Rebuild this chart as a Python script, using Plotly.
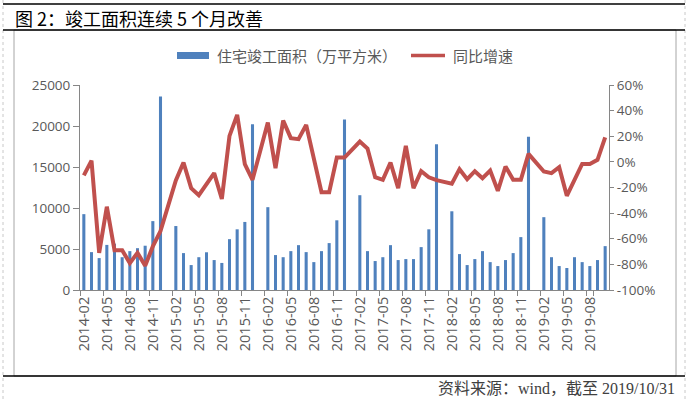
import plotly.graph_objects as go

# ---------------- data ----------------
all_months = [f"{y}-{m:02d}" for y in range(2014, 2020) for m in range(1, 13)]
months = all_months[1:70]          # 2014-02 .. 2019-10
tick_labels = months[::3]

# 住宅竣工面积（万平方米）
completion = [
    9250, 4620, 3890, 5500, 5650, 4000, 4740, 5100, 5400, 8400, 23600,
    None, 7800, 4500, 3040, 4000, 4600, 3650, 3300, 6200, 7400, 8300, 20200,
    None, 10100, 4260, 4000, 4740, 5470, 4620, 3400, 4740, 5720, 8500, 20800,
    None, 11560, 4740, 3530, 4000, 5470, 3650, 3770, 3770, 5230, 7400, 17760,
    None, 9600, 4380, 3040, 3770, 4740, 3400, 2920, 3650, 4500, 6450, 18700,
    None, 8880, 4000, 2920, 2680, 4000, 3400, 2920, 3650, 5350,
]

# 同比增速 (%)
yoy = [
    -10.5, 1.0, -71, -35, -69, -69, -79, -71, -81, -66, -54,
    None, -14.5, -0.5, -20.5, -26, -17.4, -8.8, -29, 20.3, 36.7, -1.8, -14,
    None, 30.7, -4.9, 32.2, 18.5, 17.7, 28.9, 2.0, -23.7, -23.7, 3.4, 3.4,
    None, 15.9, 10.4, -12, -14, -0.5, -20.5, 12.5, -20.5, -7.3, -12, -14.3,
    None, -17, -5.7, -13.5, -7.3, -12.7, -6.8, -22.6, -3.6, -14, -14, 6.2,
    None, -7.5, -8.8, -4.2, -26.5, -14, -1.6, -1.6, 1.6, 19.2,
]

left_ticks = [0, 5000, 10000, 15000, 20000, 25000]
right_ticks = [-100, -80, -60, -40, -20, 0, 20, 40, 60]
right_tick_text = [f"{v}%" for v in right_ticks]

# ---------------- layout helpers ----------------
L, R, T, B = 80, 609, 85, 290
W, H = 688, 399


def px(x):
    return (x - L) / (R - L)


def py(y):
    return (B - y) / (B - T)


BLUE = "#4F81BD"
RED = "#C0504D"
AX = "#868686"
TXT = "#595959"
TICKFONT = dict(family="Open Sans, Liberation Sans, sans-serif", size=13.5, color=TXT)
XTICKFONT = dict(family="Open Sans, Liberation Sans, sans-serif", size=14.5, color=TXT)
CJK = "Noto Sans CJK SC, Noto Sans, sans-serif"

fig = go.Figure()
fig.add_trace(go.Bar(
    x=months, y=completion, marker_color=BLUE, marker_line_width=0,
    name="住宅竣工面积（万平方米）", showlegend=False, yaxis="y",
))
fig.add_trace(go.Scatter(
    x=months, y=yoy, mode="lines", line=dict(color=RED, width=4),
    connectgaps=True, name="同比增速", showlegend=False, yaxis="y2",
))

shapes = [
    # page borders (dashed)
    dict(type="line", x0=px(3), x1=px(3), y0=py(0), y1=py(399),
         line=dict(color="#C8C8C8", width=1, dash="dot")),
    dict(type="line", x0=px(685), x1=px(685), y0=py(0), y1=py(399),
         line=dict(color="#C8C8C8", width=1, dash="dot")),
    # chart frame
    dict(type="rect", x0=px(14), x1=px(676), y0=py(376), y1=py(30),
         line=dict(color="#A6A6A6", width=1)),
    # black rules
    dict(type="line", x0=px(3), x1=px(685), y0=py(4), y1=py(4),
         line=dict(color="black", width=1.5)),
    dict(type="line", x0=px(3), x1=px(685), y0=py(30), y1=py(30),
         line=dict(color="black", width=1.5)),
    dict(type="line", x0=px(3), x1=px(685), y0=py(376), y1=py(376),
         line=dict(color="black", width=1.5)),
    # legend symbols
    dict(type="rect", x0=px(177), x1=px(209), y0=py(59), y1=py(52),
         fillcolor=BLUE, line=dict(width=0)),
    dict(type="line", x0=px(411), x1=px(445), y0=py(55.5), y1=py(55.5),
         line=dict(color=RED, width=3.5)),
]
for s in shapes:
    s.update(xref="paper", yref="paper")

annotations = [
    dict(text="图 2：竣工面积连续 5 个月改善", x=px(13), y=py(18),
         xanchor="left", yanchor="middle",
         font=dict(family=CJK, size=18, color="black")),
    dict(text="住宅竣工面积（万平方米）", x=px(215), y=py(55.5),
         xanchor="left", yanchor="middle",
         font=dict(family=CJK, size=15, color=TXT)),
    dict(text="同比增速", x=px(451), y=py(55.5),
         xanchor="left", yanchor="middle",
         font=dict(family=CJK, size=15, color=TXT)),
    dict(text="资料来源：wind，截至 2019/10/31", x=px(677), y=py(388),
         xanchor="right", yanchor="middle",
         font=dict(family="Liberation Serif, Noto Sans CJK SC, serif", size=16,
                   color="#404040")),
]
for a in annotations:
    a.update(xref="paper", yref="paper", showarrow=False)

fig.update_layout(
    width=W, height=H,
    margin=dict(l=L, r=W - R, t=T, b=H - B, pad=0),
    paper_bgcolor="white", plot_bgcolor="white",
    bargap=0.6,
    shapes=shapes, annotations=annotations,
    xaxis=dict(
        type="category", categoryorder="array", categoryarray=months,
        range=[-0.5, len(months) - 0.5],
        tickmode="array", tickvals=tick_labels, ticktext=tick_labels,
        tickson="boundaries", ticks="outside", ticklen=5, tickcolor=AX,
        tickangle=-90, tickfont=XTICKFONT,
        showline=True, linecolor=AX, linewidth=1, showgrid=False,
    ),
    yaxis=dict(
        range=[0, 25000], tickmode="array", tickvals=left_ticks,
        ticktext=[str(v) for v in left_ticks],
        ticks="outside", ticklen=6, tickcolor=AX, tickfont=TICKFONT,
        showline=True, linecolor=AX, linewidth=1, showgrid=False, zeroline=False,
    ),
    yaxis2=dict(
        overlaying="y", side="right", range=[-100, 60],
        tickmode="array", tickvals=right_ticks, ticktext=right_tick_text,
        ticks="outside", ticklen=4, tickcolor=AX, tickfont=TICKFONT,
        showline=True, linecolor=AX, linewidth=1, showgrid=False, zeroline=False,
    ),
)

fig.write_html(
    "out.html",
    config={"displayModeBar": False},
    post_script="document.body.style.margin='0';document.body.style.overflow='hidden';",
)
